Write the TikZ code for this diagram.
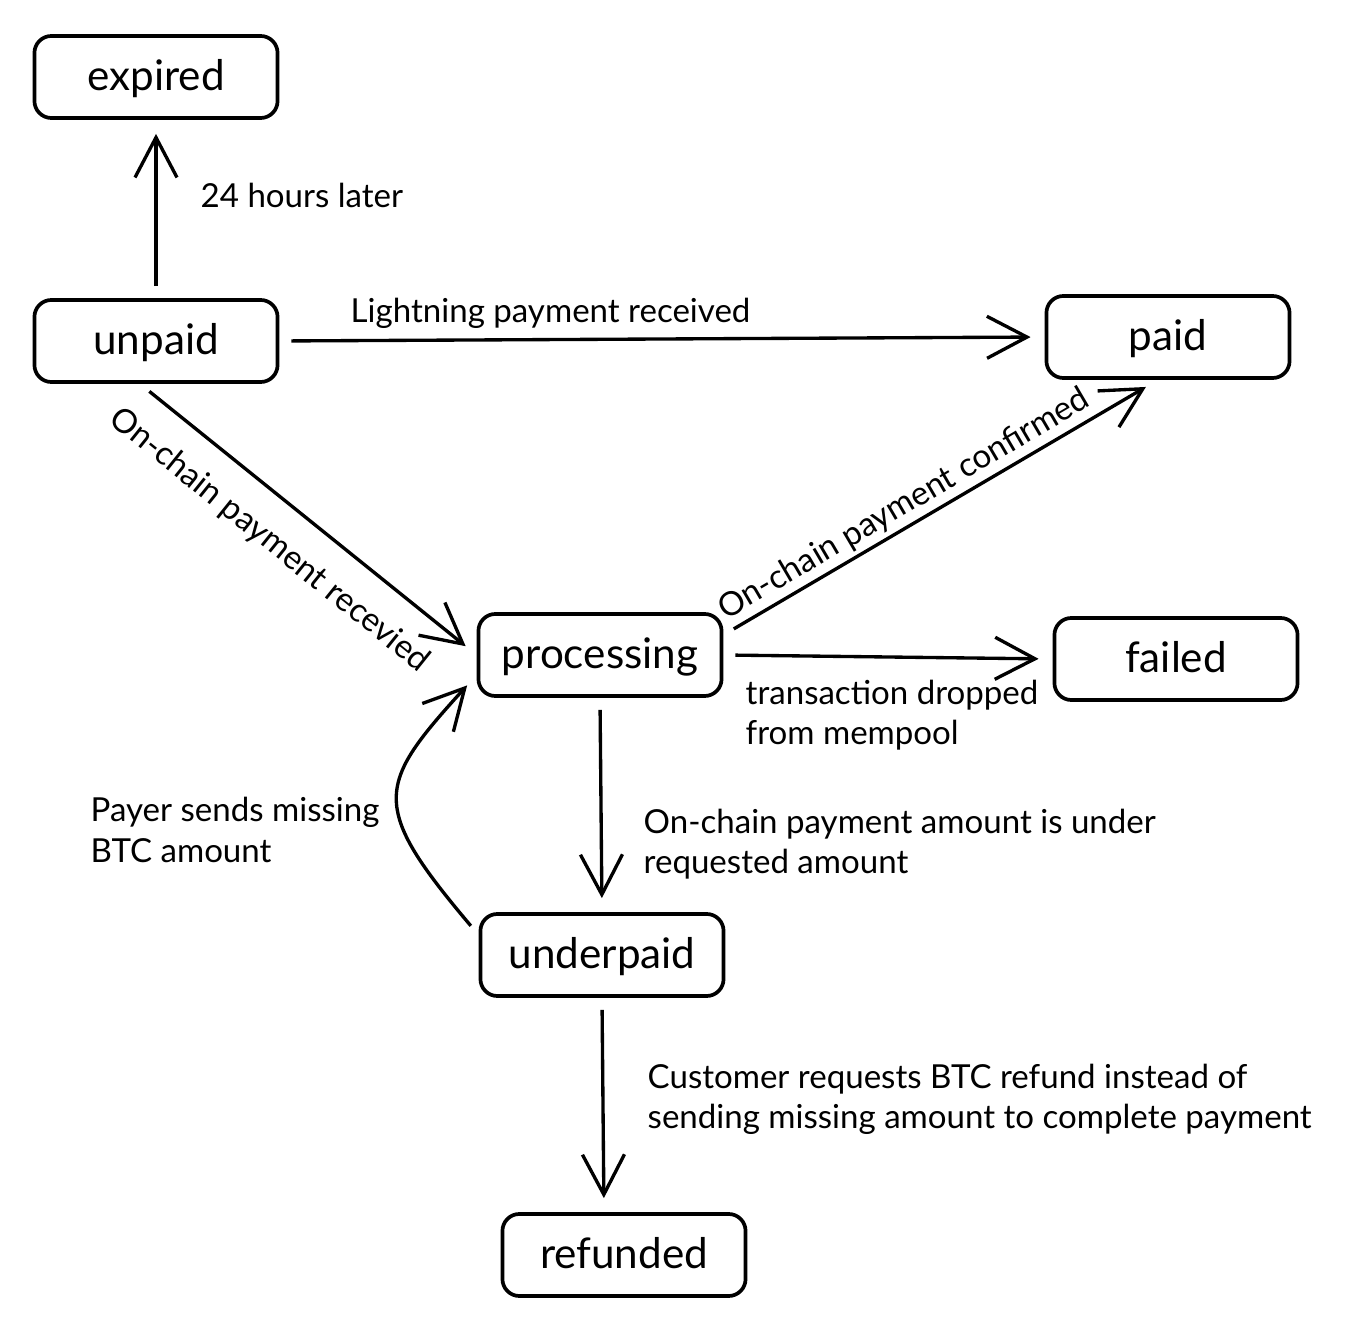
\documentclass[tikz,border=0pt]{standalone}
\usepackage{fontspec}
\setmainfont{Lato}
\usetikzlibrary{arrows.meta,positioning}

\tikzset{
  status/.style={draw, line width=1.05pt, rounded corners=0.17cm,
    minimum width=2.43cm, minimum height=0.82cm,
    text height=9pt, text depth=1.6pt,
    font=\fontsize{12}{14}\selectfont},
  lbl/.style={inner sep=0pt, align=left, font=\fontsize{9.4}{11.4}\selectfont},
  flow/.style={line width=0.95pt, -{Straight Barb[length=4mm,width=4.2mm]},
    shorten <=0.12cm, shorten >=0.14cm},
}

\begin{document}
\begin{tikzpicture}[x=0.01cm, y=-0.01cm]
  \useasboundingbox (0,0) rectangle (1360,1334);
  % invoice states
  \node[status] (expired)    at (156,77)   {expired};
  \node[status] (unpaid)     at (156,341)  {unpaid};
  \node[status] (paid)       at (1168,337) {paid};
  \node[status] (processing) at (600,655)  {processing};
  \node[status] (failed)     at (1176,659) {failed};
  \node[status] (underpaid)  at (602,955)  {underpaid};
  \node[status] (refunded)   at (624,1255) {refunded};

  % transitions
  \draw[flow] (unpaid.north) -- (expired.south);
  \draw[flow] (unpaid.east) -- (paid.west);
  \draw[flow] ([xshift=-1.6mm]unpaid.south) -- (processing.west)
    node[lbl, sloped, below=0.24cm, pos=0.46] (lchain) {On-chain payment recevied};
  \draw[flow] ([yshift=2mm]processing.east) -- ([xshift=-1mm]paid.south)
    node[lbl, sloped, above=0.04cm, pos=0.44] (lconf) {On-chain payment confirmed};
  \draw[flow] (processing.east) -- (failed.west);
  \draw[flow] (processing.south) -- (underpaid.north);
  \draw[flow] ([yshift=2mm]underpaid.west)
    .. controls +(-110,-130) and +(-100,110) .. ([yshift=-2mm]processing.west);
  \draw[flow] (underpaid.south) -- ([xshift=-2mm]refunded.north);

  % labels
  \node[lbl, anchor=west] (l24)    at (200,195) {24 hours later};
  \node[lbl, anchor=west] (llight) at (350,313) {Lightning payment received};
  \node[lbl, anchor=west] (ldrop)  at (745,715) {transaction dropped\\from mempool};
  \node[lbl, anchor=west] (lunder) at (643,844) {On-chain payment amount is under\\requested amount};
  \node[lbl, anchor=west] (lpayer) at (90,830) {Payer sends missing\\BTC amount};
  \node[lbl, anchor=west] (lrefund) at (647,1099) {Customer requests BTC refund instead of\\sending missing amount to complete payment};
\end{tikzpicture}
\end{document}
